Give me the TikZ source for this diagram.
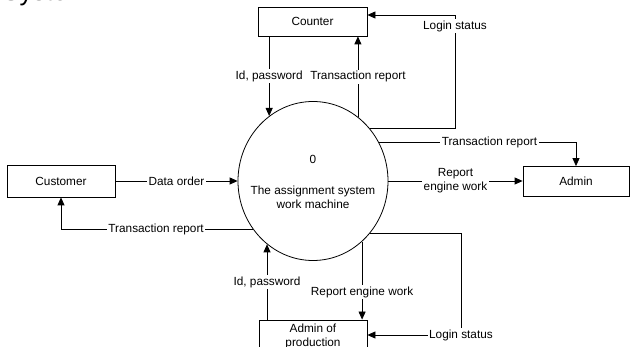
\documentclass[tikz,border=0pt]{standalone}
\usepackage{fontspec}
\setmainfont{Liberation Sans}
\usetikzlibrary{shapes.geometric,arrows.meta}
\begin{document}
\begin{tikzpicture}[x=1pt,y=-1pt,line width=0.8pt,
  font=\fontsize{11.8}{14}\selectfont,
  ent/.style={draw, inner sep=0pt, align=center},
  lbl/.style={fill=white, inner sep=1.5pt, align=center},
  arr/.style={-{Triangle[length=8pt,width=7pt]}}]
\useasboundingbox (0,0) rectangle (630,347);
\clip (0,0) rectangle (630,347);
% cropped title
\node[anchor=base west, inner sep=0pt, font=\fontsize{26}{26}\selectfont] (title) at (2,0.4) {System};
% entities
\node[ent, minimum width=109pt, minimum height=29pt] (counter) at (312.5,21.5) {Counter};
\node[ent, minimum width=108pt, minimum height=32pt] (customer) at (61,181) {Customer};
\node[ent, minimum width=106pt, minimum height=30pt] (admin) at (576,181.5) {Admin};
\node[ent, minimum width=108pt, minimum height=33pt] (adminprod) at (313,336.5) {Admin of\\production};
% process
\node[ellipse, draw, minimum width=150pt, minimum height=159pt, inner sep=0pt] (proc) at (313,181) {};
\node[align=center, inner sep=0pt] (proctext) at (313,181.5) {0\\[17pt]The assignment system\\work machine};
\coordinate (ctop) at (455,15);
\coordinate (cbot) at (461,335);
% connectors
\draw[arr] (counter.south -| proc.124.3) -- (proc.124.3) node[lbl, midway] {Id, password};
\draw[arr] (proc.55.7) -- (counter.south -| proc.55.7) node[lbl, midway] {Transaction report};
\draw[arr] (proc.43.5) -| (ctop) -- (ctop -| counter.east);
\node[lbl] (lslabel) at (455,26) {Login status};
\draw[arr] (proc.30) -| (admin.north) node[lbl, pos=0.28] {Transaction report};
\draw[arr] (proc.east) -- (proc.east -| admin.west) node[lbl, midway] {Report\\engine work};
\draw[arr] (customer.east) -- (proc.west) node[lbl, midway] {Data order};
\draw[arr] (proc.-141.25) -| (customer.south) node[lbl, pos=0.2525] {Transaction report};
\draw[arr] (adminprod.north -| proc.-126.2) -- (proc.-126.2) node[lbl, midway] {Id, password};
\draw[arr] (proc.-51.85) -- (adminprod.north -| proc.-51.85) node[lbl, pos=0.65] {Report engine work};
\draw[arr] (proc.-43.5) -| (cbot) node[lbl] {Login status} -- (cbot -| adminprod.east);
\end{tikzpicture}
\end{document}
